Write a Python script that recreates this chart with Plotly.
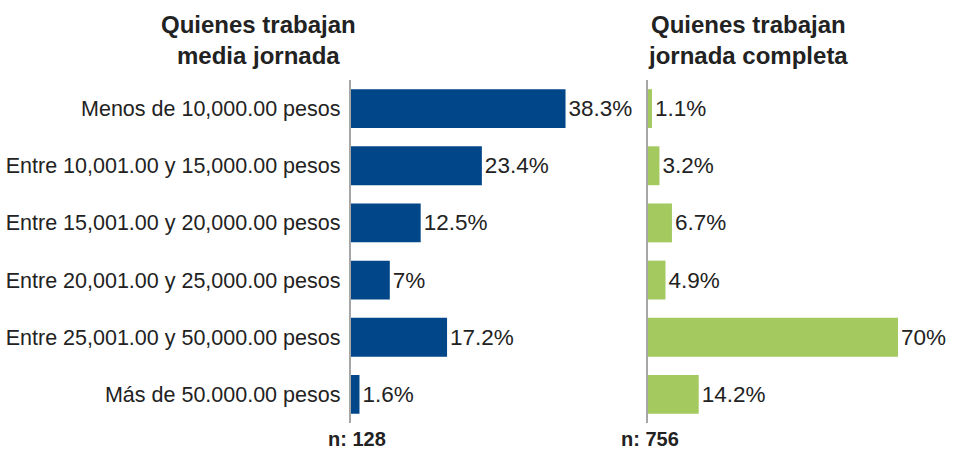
import plotly.graph_objects as go

categorias = [
    "Menos de 10,000.00 pesos",
    "Entre 10,001.00 y 15,000.00 pesos",
    "Entre 15,001.00 y 20,000.00 pesos",
    "Entre 20,001.00 y 25,000.00 pesos",
    "Entre 25,001.00 y 50,000.00 pesos",
    "Más de 50.000.00 pesos",
]
media_jornada = [38.3, 23.4, 12.5, 7, 17.2, 1.6]
jornada_completa = [1.1, 3.2, 6.7, 4.9, 70, 14.2]
etiquetas_media = ["38.3%", "23.4%", "12.5%", "7%", "17.2%", "1.6%"]
etiquetas_completa = ["1.1%", "3.2%", "6.7%", "4.9%", "70%", "14.2%"]

W, H = 953, 453
FONT = "Liberation Sans, Arial, Helvetica, sans-serif"
TXT = "#222222"

fig = go.Figure()
fig.add_trace(go.Bar(
    y=categorias, x=media_jornada, orientation="h",
    marker=dict(color="#004688", line=dict(width=0)),
    text=etiquetas_media, textposition="outside", cliponaxis=False,
    textfont=dict(size=22.5, color=TXT, family=FONT),
    xaxis="x", yaxis="y", width=0.68,
))
fig.add_trace(go.Bar(
    y=categorias, x=jornada_completa, orientation="h",
    marker=dict(color="#a3c95f", line=dict(width=0)),
    text=etiquetas_completa, textposition="outside", cliponaxis=False,
    textfont=dict(size=22.5, color=TXT, family=FONT),
    xaxis="x2", yaxis="y2", width=0.68,
))

y_dom = [30 / H, 373 / H]
fig.update_layout(
    width=W, height=H,
    margin=dict(l=0, r=0, t=0, b=0),
    paper_bgcolor="white", plot_bgcolor="white",
    showlegend=False,
    font=dict(family=FONT, color=TXT, size=18),
    xaxis=dict(domain=[350.5 / W, 640 / W], range=[0, 289.5 / 5.614],
               visible=False, fixedrange=True),
    xaxis2=dict(domain=[648 / W, 948 / W], range=[0, 300 / 3.571],
                visible=False, fixedrange=True),
    yaxis=dict(domain=y_dom, anchor="x", categoryorder="array",
               categoryarray=categorias, range=[5.5, -0.5],
               showline=True, linecolor="#a6a6a6", linewidth=1.5,
               showgrid=False, zeroline=False, ticks="",
               ticklabelstandoff=4,
               tickfont=dict(size=21.5, color=TXT, family=FONT)),
    yaxis2=dict(domain=y_dom, anchor="x2", categoryorder="array",
                categoryarray=categorias, range=[5.5, -0.5],
                showline=True, linecolor="#a6a6a6", linewidth=1.5,
                showgrid=False, zeroline=False, showticklabels=False,
                ticks=""),
)

titulos = [
    (258, "<b>Quienes trabajan<br>media jornada</b>"),
    (748, "<b>Quienes trabajan<br>jornada completa</b>"),
]
for cx, t in titulos:
    fig.add_annotation(
        text=t, x=cx / W, y=1 - 40 / H, xref="paper", yref="paper",
        xanchor="center", yanchor="middle", showarrow=False, align="center",
        font=dict(size=24, color=TXT, family=FONT),
    )

muestras = [(357, "<b>n: 128</b>"), (650, "<b>n: 756</b>")]
for cx, t in muestras:
    fig.add_annotation(
        text=t, x=cx / W, y=(H - 439) / H, xref="paper", yref="paper",
        xanchor="center", yanchor="middle", showarrow=False,
        font=dict(size=20, color=TXT, family=FONT),
    )

fig.write_html("out.html", config={"displayModeBar": False},
               post_script="document.body.style.margin='0';")
